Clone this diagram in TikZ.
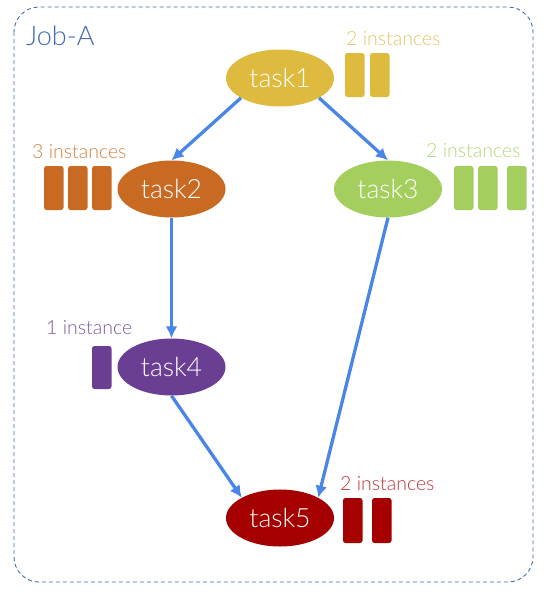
\documentclass[tikz,border=0pt]{standalone}
\usepackage{fontspec}
\setmainfont{Lato Light}
\usepackage{tikz}
\usetikzlibrary{shapes.geometric,arrows.meta}

\definecolor{jobblue}{HTML}{4268B5}
\definecolor{arrowblue}{HTML}{4A86E8}
\definecolor{cyel}{HTML}{DEBB3E}
\definecolor{lyel}{HTML}{E3C463}
\definecolor{corg}{HTML}{C86A22}
\definecolor{lorg}{HTML}{D3803D}
\definecolor{cgrn}{HTML}{A4CF5F}
\definecolor{lgrn}{HTML}{B2D778}
\definecolor{cpur}{HTML}{6A3F93}
\definecolor{lpur}{HTML}{7D55A3}
\definecolor{cred}{HTML}{A50000}
\definecolor{lred}{HTML}{BF3236}

\tikzset{
  task/.style={ellipse,fill=#1,text=white,minimum width=108pt,minimum height=57pt,inner sep=0pt,font=\fontsize{26.5}{30}\selectfont},
  inst/.style={anchor=base west,text=#1,inner sep=0pt,font=\fontsize{19.5}{22}\selectfont},
  bar/.style={fill=#1,rounded corners=2.5pt},
  flow/.style={draw=arrowblue,line width=3.3pt,-{Latex[length=12pt,width=12pt]}}
}

\begin{document}
\begin{tikzpicture}[x=1pt,y=-1pt]
    \useasboundingbox (0,0) rectangle (558,592);
    \draw[jobblue,line width=0.9pt,dash pattern=on 4pt off 3pt,rounded corners=25pt] (14,7) rectangle (533,582);
    \node[anchor=base west,text=jobblue,inner sep=0pt,font=\fontsize{27}{30}\selectfont] (job) at (26,45) {Job-A};

    \node[task=cyel] (t1) at (280,78) {task1};
    \node[task=corg] (t2) at (171.5,189) {task2};
    \node[task=cgrn] (t3) at (388,189) {task3};
    \node[task=cpur] (t4) at (171.5,367) {task4};
    \node[task=cred] (t5) at (280,518) {task5};

    \node[inst=lyel] (i1) at (346,45) {2 instances};
    \node[inst=lorg] (i2) at (32,158) {3 instances};
    \node[inst=lgrn] (i3) at (426,157) {2 instances};
    \node[inst=lpur] (i4) at (46,334) {1 instance};
    \node[inst=lred] (i5) at (340,490) {2 instances};

    \foreach \x in {345,370} \fill[bar=cyel] (\x,53) rectangle ++(19.5,44);
    \foreach \x in {44,68,92} \fill[bar=corg] (\x,166) rectangle ++(19.5,44);
    \foreach \x in {454,478,507} \fill[bar=cgrn] (\x,166) rectangle ++(19.5,44);
    \fill[bar=cpur] (92,346) rectangle ++(19.5,43);
    \foreach \x in {343,372} \fill[bar=cred] (\x,498) rectangle ++(19.5,45);

    \draw[flow] (t1.207) -- (t2.north);
    \draw[flow] (t1.-27) -- (t3.north);
    \draw[flow] (t2) -- (t4);
    \draw[flow] (t4.south) -- (t5.152);
    \draw[flow] (t3.south) -- (t5.28);
\end{tikzpicture}
\end{document}
